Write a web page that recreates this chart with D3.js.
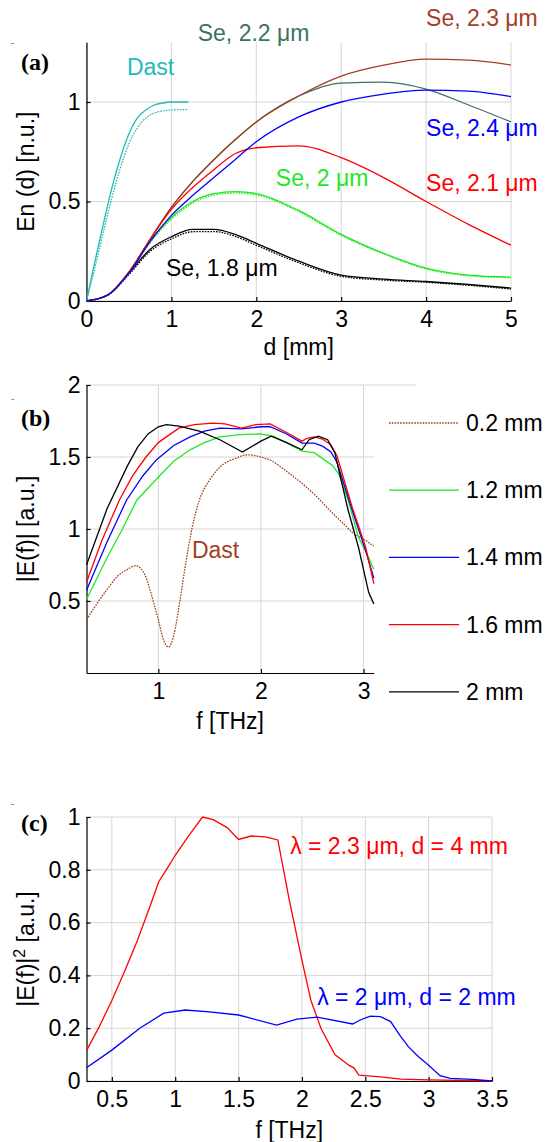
<!DOCTYPE html>
<html>
<head>
<meta charset="utf-8">
<script src="https://cdn.jsdelivr.net/npm/d3@7"></script>
<style>
  body { margin: 0; background: #fff; }
  svg text { font-family: "Liberation Sans", Arial, sans-serif; }
  .grid line { stroke: #d6d6d6; stroke-width: 1; }
  .axis path, .axis line { stroke: #000; stroke-width: 1.2; }
  .axis text { font-size: 23px; fill: #000; font-family: "Liberation Sans", Arial, sans-serif; }
  svg text.tag { font-family: "Liberation Serif", "Times New Roman", serif; font-weight: bold; font-size: 24px; }
  .lbl { font-size: 23px; }
</style>
</head>
<body>
<svg id="chart" width="547" height="1142"></svg>
<script>
// ---- panel (a): En(d) vs crystal length ----
var dAxis   = [0, 0.25, 0.5, 0.75, 1, 1.25, 1.5, 1.75, 2, 2.5, 3, 3.5, 4, 4.5, 5];
var se18    = [0, 0.03, 0.14, 0.26, 0.323, 0.36, 0.36, 0.335, 0.29, 0.2, 0.13, 0.11, 0.098, 0.083, 0.065];
var se18dot = [0, 0.028, 0.133, 0.25, 0.312, 0.348, 0.349, 0.325, 0.28, 0.192, 0.124, 0.105, 0.094, 0.079, 0.06];
var se20    = [0, 0.03, 0.145, 0.3, 0.42, 0.5, 0.54, 0.55, 0.54, 0.455, 0.335, 0.24, 0.165, 0.13, 0.12];
var se20dot = [0, 0.029, 0.14, 0.293, 0.412, 0.492, 0.532, 0.543, 0.533, 0.449, 0.33, 0.236, 0.161, 0.127, 0.117];
var se21    = [0, 0.03, 0.145, 0.31, 0.46, 0.57, 0.66, 0.74, 0.77, 0.78, 0.72, 0.62, 0.5, 0.385, 0.28];
var se22    = [0, 0.03, 0.145, 0.31, 0.47, 0.6, 0.71, 0.81, 0.9, 1.03, 1.095, 1.1, 1.065, 0.985, 0.9];
var se23    = [0, 0.03, 0.145, 0.31, 0.47, 0.6, 0.71, 0.81, 0.9, 1.03, 1.13, 1.185, 1.215, 1.21, 1.186];
var se24    = [0, 0.03, 0.14, 0.3, 0.43, 0.53, 0.62, 0.71, 0.8, 0.925, 1.0, 1.04, 1.06, 1.055, 1.027];
var dDast     = [0, 0.1, 0.2, 0.3, 0.4, 0.5, 0.6, 0.7, 0.8, 0.9, 1.0, 1.1, 1.2];
var dastSolid = [0, 0.2, 0.39, 0.57, 0.72, 0.84, 0.92, 0.96, 0.985, 0.995, 1.0, 1.0, 1.0];
var dastDot   = [0, 0.17, 0.35, 0.52, 0.67, 0.79, 0.87, 0.92, 0.945, 0.955, 0.96, 0.962, 0.962];
var aXTicks = [0, 1, 2, 3, 4, 5];
var aYTicks = [0, 0.5, 1];

// ---- panel (b): |E(f)| for several lengths ----
var fB02 = [0.3, 0.4, 0.5, 0.6, 0.7, 0.78, 0.87, 0.95, 1.0, 1.05, 1.1, 1.15, 1.21, 1.26, 1.33, 1.4, 1.5, 1.6, 1.75, 1.87, 2.0, 2.1, 2.25, 2.42, 2.55, 2.67, 2.8, 2.9, 3.0, 3.1];
var eB02 = [0.37, 0.48, 0.58, 0.67, 0.72, 0.745, 0.68, 0.5, 0.37, 0.23, 0.18, 0.26, 0.5, 0.73, 1.01, 1.2, 1.34, 1.43, 1.49, 1.515, 1.5, 1.475, 1.4, 1.305, 1.22, 1.13, 1.04, 0.97, 0.93, 0.88];
var fB12 = [0.3, 0.5, 0.65, 0.79, 1.02, 1.15, 1.31, 1.45, 1.6, 1.8, 1.99, 2.12, 2.25, 2.4, 2.52, 2.62, 2.7, 2.76, 2.85, 2.95, 3.05, 3.1];
var eB12 = [0.51, 0.8, 1.0, 1.2, 1.375, 1.47, 1.55, 1.6, 1.64, 1.655, 1.66, 1.645, 1.6, 1.54, 1.53, 1.48, 1.44, 1.38, 1.2, 0.945, 0.8, 0.72];
var fB14 = [0.3, 0.5, 0.69, 0.85, 0.98, 1.15, 1.31, 1.45, 1.6, 1.81, 2.0, 2.09, 2.25, 2.4, 2.52, 2.6, 2.68, 2.74, 2.89, 3.02, 3.1];
var eB14 = [0.575, 0.91, 1.2, 1.37, 1.48, 1.58, 1.64, 1.68, 1.7, 1.695, 1.71, 1.71, 1.66, 1.597, 1.597, 1.575, 1.537, 1.465, 1.13, 0.85, 0.66];
var fB16 = [0.3, 0.45, 0.62, 0.75, 0.88, 1.0, 1.2, 1.35, 1.53, 1.65, 1.81, 1.95, 2.09, 2.25, 2.4, 2.45, 2.52, 2.6, 2.68, 2.74, 2.89, 3.02, 3.1];
var eB16 = [0.63, 0.92, 1.2, 1.37, 1.5, 1.6, 1.7, 1.725, 1.735, 1.73, 1.7, 1.725, 1.73, 1.67, 1.61, 1.63, 1.64, 1.625, 1.585, 1.51, 1.15, 0.875, 0.62];
var fB20 = [0.3, 0.5, 0.7, 0.8, 0.9, 1.0, 1.08, 1.2, 1.4, 1.6, 1.82, 2.0, 2.1, 2.25, 2.4, 2.47, 2.56, 2.65, 2.72, 2.85, 2.95, 3.05, 3.1];
var eB20 = [0.75, 1.14, 1.44, 1.57, 1.66, 1.71, 1.725, 1.715, 1.68, 1.62, 1.535, 1.61, 1.645, 1.6, 1.55, 1.62, 1.645, 1.62, 1.53, 1.13, 0.875, 0.56, 0.48];
var bLegend = ["0.2 mm", "1.2 mm", "1.4 mm", "1.6 mm", "2 mm"];
var bXTicks = [1, 2, 3];
var bYTicks = [0.5, 1, 1.5, 2];

// ---- panel (c): |E(f)|^2 ----
var fC23 = [0.3, 0.4, 0.5, 0.6, 0.7, 0.8, 0.87, 0.93, 1.0, 1.1, 1.215, 1.3, 1.41, 1.5, 1.6, 1.71, 1.81, 1.9, 2.0, 2.07, 2.15, 2.26, 2.37, 2.41, 2.45, 2.62, 2.78, 3.0, 3.5];
var eC23 = [0.115, 0.205, 0.305, 0.415, 0.53, 0.66, 0.755, 0.8, 0.855, 0.925, 1.0, 0.99, 0.96, 0.915, 0.928, 0.925, 0.913, 0.686, 0.458, 0.307, 0.2, 0.1, 0.06, 0.05, 0.022, 0.016, 0.007, 0.004, 0.0];
var fC20 = [0.3, 0.5, 0.72, 0.91, 1.08, 1.27, 1.5, 1.8, 1.96, 2.12, 2.4, 2.46, 2.54, 2.62, 2.7, 2.78, 2.84, 2.92, 3.0, 3.09, 3.17, 3.35, 3.5];
var eC20 = [0.05, 0.117, 0.2, 0.257, 0.269, 0.262, 0.25, 0.212, 0.234, 0.242, 0.216, 0.231, 0.246, 0.244, 0.225, 0.168, 0.13, 0.092, 0.06, 0.02, 0.01, 0.006, 0.0];
var cXTicks = [0.5, 1, 1.5, 2, 2.5, 3, 3.5];
var cYTicks = [0, 0.2, 0.4, 0.6, 0.8, 1];

var svg = d3.select("#chart");

function zip(xs, ys) { return xs.map(function(v, i) { return [v, ys[i]]; }); }

function panel(o) {
  var x = d3.scaleLinear().domain(o.xDomain).range(o.xRange);
  var y = d3.scaleLinear().domain(o.yDomain).range(o.yRange);
  var g = svg.append("g");

  var grid = g.append("g").attr("class", "grid");
  grid.selectAll(".vx").data(o.xTicks).enter().append("line")
    .attr("x1", d => x(d)).attr("x2", d => x(d))
    .attr("y1", o.yRange[0]).attr("y2", o.yRange[1]);
  grid.selectAll(".hy").data(o.yTicks).enter().append("line")
    .attr("x1", o.xRange[0])
    .attr("x2", d => (d === o.yDomain[1] && o.topExtend) ? o.xRange[1] + o.topExtend : o.xRange[1])
    .attr("y1", d => y(d)).attr("y2", d => y(d));

  g.append("g").attr("class", "axis")
    .attr("transform", "translate(0," + o.yRange[0] + ")")
    .call(d3.axisBottom(x).tickValues(o.xTicks).tickSizeInner(-4).tickSizeOuter(0).tickPadding(10).tickFormat(d => String(d)));
  g.append("g").attr("class", "axis")
    .attr("transform", "translate(" + o.xRange[0] + ",0)")
    .call(d3.axisLeft(y).tickValues(o.yTicks).tickSizeInner(-4).tickSizeOuter(0).tickPadding(6).tickFormat(d => String(d)));

  // axis titles
  var midX = (o.xRange[0] + o.xRange[1]) / 2, midY = (o.yRange[0] + o.yRange[1]) / 2;
  g.append("text").attr("class", "lbl").attr("text-anchor", "middle")
    .attr("x", midX).attr("y", o.yRange[0] + o.xTitleGap).text(o.xTitle);
  var yt = g.append("text").attr("class", "lbl").attr("text-anchor", "middle")
    .attr("transform", "translate(34," + midY + ") rotate(-90)");
  o.yTitle(yt);

  g.append("text").attr("class", "tag").attr("x", 21).attr("y", o.tagY).text(o.tag);
  g.append("text").attr("x", 11).attr("y", o.tagY - 24).attr("font-size", 10).attr("fill", "#777").text("-");

  return { x: x, y: y, g: g };
}

function drawLine(p, data, color, dotted, curve) {
  var line = d3.line().x(d => p.x(d[0])).y(d => p.y(d[1])).curve(curve || d3.curveLinear);
  p.g.append("path").datum(data)
    .attr("fill", "none").attr("stroke", color).attr("stroke-width", 1.3)
    .attr("stroke-dasharray", dotted ? "1.6,1.2" : null)
    .attr("d", line);
}

function note(p, xv, yv, color, txt) {
  p.g.append("text").attr("class", "lbl").attr("fill", color)
    .attr("x", p.x(xv)).attr("y", p.y(yv)).text(txt);
}

// ---------- (a) ----------
var pa = panel({
  xDomain: [0, 5], xRange: [86.5, 511], yDomain: [0, 1.3], yRange: [301, 42.3],
  xTicks: aXTicks, yTicks: aYTicks, tag: "(a)", tagY: 70, xTitleGap: 54,
  xTitle: "d [mm]",
  yTitle: function(t) { t.text("En (d) [n.u.]"); }
});
var cAqua = "#22bbbb", cDkGreen = "#3d7260", cBrown = "#a3401f", cGreen = "#22e822";
drawLine(pa, zip(dDast, dastDot), cAqua, true, d3.curveMonotoneX);
drawLine(pa, zip(dDast, dastSolid), cAqua, false, d3.curveMonotoneX);
drawLine(pa, zip(dAxis, se18dot), "#000", true, d3.curveMonotoneX);
drawLine(pa, zip(dAxis, se18), "#000", false, d3.curveMonotoneX);
drawLine(pa, zip(dAxis, se20dot), cGreen, true, d3.curveMonotoneX);
drawLine(pa, zip(dAxis, se20), cGreen, false, d3.curveMonotoneX);
drawLine(pa, zip(dAxis, se22), cDkGreen, false, d3.curveMonotoneX);
drawLine(pa, zip(dAxis, se23), cBrown, false, d3.curveMonotoneX);
drawLine(pa, zip(dAxis, se21), "#ff0000", false, d3.curveMonotoneX);
drawLine(pa, zip(dAxis, se24), "#0000ff", false, d3.curveMonotoneX);

note(pa, 1.31, 1.307, cDkGreen, "Se, 2.2 \u03bcm");
note(pa, 4.0, 1.38, cBrown, "Se, 2.3 \u03bcm");
note(pa, 0.476, 1.136, cAqua, "Dast");
note(pa, 4.0, 0.83, "#0000ff", "Se, 2.4 \u03bcm");
note(pa, 2.23, 0.578, cGreen, "Se, 2 \u03bcm");
note(pa, 4.0, 0.553, "#ff0000", "Se, 2.1 \u03bcm");
note(pa, 0.935, 0.126, "#000", "Se, 1.8 \u03bcm");

// ---------- (b) ----------
var pb = panel({
  xDomain: [0.3, 3.1], xRange: [86.5, 373.8], yDomain: [0, 2], yRange: [673, 385],
  xTicks: bXTicks, yTicks: bYTicks, tag: "(b)", tagY: 426, topExtend: 42, xTitleGap: 56,
  xTitle: "f [THz]",
  yTitle: function(t) { t.text("|E(f)| [a.u.]"); }
});
var bSeries = [
  { f: fB02, e: eB02, color: cBrown, dotted: true, curve: d3.curveMonotoneX },
  { f: fB12, e: eB12, color: cGreen },
  { f: fB14, e: eB14, color: "#0000ff" },
  { f: fB16, e: eB16, color: "#ff0000" },
  { f: fB20, e: eB20, color: "#000" }
];
bSeries.forEach(function(s) { drawLine(pb, zip(s.f, s.e), s.color, s.dotted, s.curve); });
note(pb, 1.327, 0.8, cBrown, "Dast");

var leg = svg.append("g").attr("transform", "translate(389,423)");
var legItem = leg.selectAll("g").data(bSeries).enter().append("g")
  .attr("transform", (d, i) => "translate(0," + (i * 67.2) + ")");
legItem.append("line").attr("x1", 0).attr("x2", 70).attr("y1", 0).attr("y2", 0)
  .attr("stroke", d => d.color).attr("stroke-width", 1.3)
  .attr("stroke-dasharray", d => d.dotted ? "1.6,1.2" : null);
legItem.append("text").attr("class", "lbl").attr("x", 77).attr("y", 8).text((d, i) => bLegend[i]);

// ---------- (c) ----------
var pc = panel({
  xDomain: [0.3, 3.5], xRange: [86.5, 492], yDomain: [0, 1], yRange: [1081, 817],
  xTicks: cXTicks, yTicks: cYTicks, tag: "(c)", tagY: 831, xTitleGap: 57,
  xTitle: "f [THz]",
  yTitle: function(t) {
    t.append("tspan").text("|E(f)|");
    t.append("tspan").attr("dy", -9).attr("font-size", 16).text("2");
    t.append("tspan").attr("dy", 9).text(" [a.u.]");
  }
});
drawLine(pc, zip(fC23, eC23), "#ff0000", false);
drawLine(pc, zip(fC20, eC20), "#0000ff", false);
note(pc, 1.907, 0.86, "#ff0000", "\u03bb = 2.3 \u03bcm, d = 4 mm");
note(pc, 2.12, 0.288, "#0000ff", "\u03bb = 2 \u03bcm, d = 2 mm");
</script>
</body>
</html>
